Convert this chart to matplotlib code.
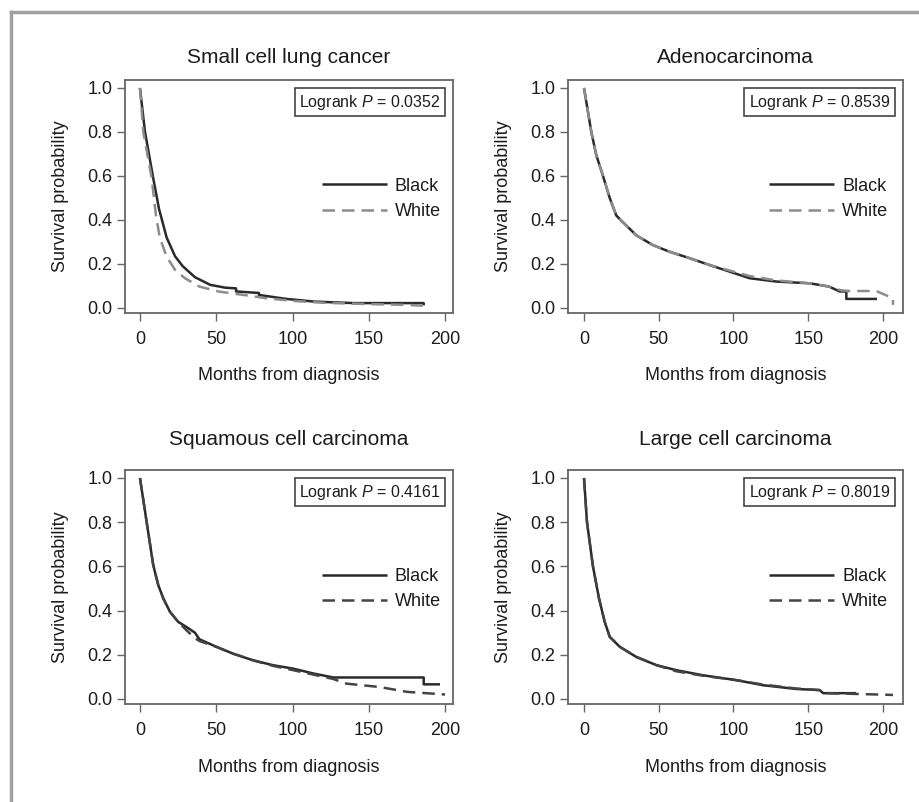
import matplotlib
matplotlib.use("Agg")
import matplotlib.pyplot as plt
from matplotlib.lines import Line2D

plt.rcParams["font.family"] = ["Liberation Sans", "DejaVu Sans"]
plt.rcParams["mathtext.fontset"] = "custom"
plt.rcParams["mathtext.rm"] = "Liberation Sans"
plt.rcParams["mathtext.it"] = "Liberation Sans:italic"

# ---- Kaplan-Meier survival estimates (months, survival probability) ----
titles = ["Small cell lung cancer", "Adenocarcinoma",
          "Squamous cell carcinoma", "Large cell carcinoma"]
logrank_p = ["0.0352", "0.8539", "0.4161", "0.8019"]
group_labels = ["Black", "White"]

scl_black_t = [0, 3.3, 8.7, 12.5, 17.5, 23, 28, 36, 46, 56, 63, 63, 78, 78, 96, 114, 140, 166, 186, 186]
scl_black_s = [1.0, 0.80, 0.59, 0.45, 0.32, 0.235, 0.19, 0.14, 0.105, 0.092, 0.089, 0.075, 0.068, 0.059, 0.041, 0.029, 0.022, 0.022, 0.022, 0.012]
scl_white_t = [0, 2.2, 7.7, 10.5, 13, 17.5, 23, 29.5, 39, 52, 68, 83, 100, 122, 153, 175, 186]
scl_white_s = [1.0, 0.80, 0.59, 0.42, 0.32, 0.233, 0.173, 0.135, 0.097, 0.074, 0.059, 0.044, 0.032, 0.023, 0.017, 0.014, 0.010]

adeno_black_t = [0, 4.9, 8.2, 12.7, 17.2, 21.6, 26, 35, 46, 57, 70.7, 84, 97.4, 110.8, 128.6, 151, 164, 171, 175.5, 175.5, 196]
adeno_black_s = [1.0, 0.80, 0.695, 0.60, 0.50, 0.42, 0.39, 0.33, 0.286, 0.256, 0.226, 0.195, 0.165, 0.135, 0.12, 0.112, 0.097, 0.075, 0.075, 0.041, 0.041]
adeno_white_t = [0, 4.9, 8.2, 12.7, 17.2, 21.6, 26, 35, 46, 57, 70.7, 84, 97.4, 110.8, 128.6, 151, 164, 172, 177.7, 195.5, 206.7, 206.7]
adeno_white_s = [1.0, 0.80, 0.695, 0.60, 0.50, 0.42, 0.39, 0.33, 0.286, 0.256, 0.226, 0.195, 0.17, 0.145, 0.125, 0.112, 0.097, 0.08, 0.077, 0.077, 0.044, 0.014]

sq_black_t = [0, 4.4, 8.7, 12, 15.3, 19.7, 25, 30.6, 36, 39, 50, 61, 74, 87, 100.5, 113.7, 126.8, 186, 186, 196.7]
sq_black_s = [1.0, 0.80, 0.606, 0.515, 0.455, 0.394, 0.349, 0.325, 0.30, 0.27, 0.236, 0.205, 0.175, 0.153, 0.137, 0.115, 0.097, 0.097, 0.066, 0.066]
sq_white_t = [0, 4.4, 8.7, 12, 15.3, 19.7, 25, 30.6, 36, 39, 50, 61, 74, 87, 100.5, 113.7, 126.8, 135.5, 157, 175, 200]
sq_white_s = [1.0, 0.80, 0.606, 0.515, 0.455, 0.394, 0.349, 0.31, 0.275, 0.262, 0.236, 0.205, 0.175, 0.150, 0.130, 0.110, 0.090, 0.069, 0.054, 0.032, 0.020]

lc_black_t = [0, 2, 6, 10, 13.8, 17.2, 23.9, 35, 48.4, 61.8, 79.6, 101.9, 119.7, 142, 157.6, 160, 182]
lc_black_s = [1.0, 0.80, 0.60, 0.456, 0.35, 0.281, 0.236, 0.19, 0.153, 0.13, 0.107, 0.085, 0.062, 0.045, 0.04, 0.026, 0.026]
lc_white_t = [0, 2, 6, 10, 13.8, 17.2, 23.9, 35, 48.4, 61.8, 79.6, 101.9, 119.7, 142, 157.6, 162, 185, 206.7]
lc_white_s = [1.0, 0.80, 0.60, 0.456, 0.35, 0.281, 0.236, 0.19, 0.153, 0.125, 0.105, 0.085, 0.065, 0.047, 0.04, 0.026, 0.022, 0.018]

series = [
    ((scl_black_t, scl_black_s), (scl_white_t, scl_white_s)),
    ((adeno_black_t, adeno_black_s), (adeno_white_t, adeno_white_s)),
    ((sq_black_t, sq_black_s), (sq_white_t, sq_white_s)),
    ((lc_black_t, lc_black_s), (lc_white_t, lc_white_s)),
]

x_ticks = [0, 50, 100, 150, 200]
y_ticks = [0.0, 0.2, 0.4, 0.6, 0.8, 1.0]

# ---- layout ----
W, H = 920, 802
fig = plt.figure(figsize=(W / 100, H / 100), dpi=100)
fig.patch.set_facecolor("white")

# axes boxes in pixels: left, top, right, bottom
boxes = [(125, 80, 453, 313), (568, 80, 903, 313),
         (125, 470, 453, 704), (568, 470, 903, 704)]
xlims = [(-9.8, 205.2), (-10.7, 213.4), (-9.8, 205.2), (-10.7, 213.4)]
white_colors = ["#8c8c8c", "#8c8c8c", "#444444", "#444444"]
title_pads = [12, 12, 18, 18]

text_c = "#1c1c1c"
frame_c = "#666666"

for i, (l, t, r, b) in enumerate(boxes):
    ax = fig.add_axes([l / W, (H - b) / H, (r - l) / W, (b - t) / H])
    (bt, bs), (wt, ws) = series[i]
    ax.plot(bt, bs, color="#2a2a2a", lw=1.8, solid_capstyle="butt",
            label=group_labels[0])
    ax.plot(wt, ws, color=white_colors[i], lw=1.8, dashes=(5, 2.8),
            label=group_labels[1])

    ax.set_xlim(*xlims[i])
    ax.set_ylim(-0.023, 1.036)
    ax.set_xticks(x_ticks)
    ax.set_yticks(y_ticks)
    ax.set_yticklabels([f"{v:.1f}" for v in y_ticks])
    ax.tick_params(direction="out", length=6, width=1.0, color=frame_c,
                   labelsize=13, labelcolor=text_c, pad=3)
    ax.tick_params(axis="x", pad=7)
    for sp in ax.spines.values():
        sp.set_color(frame_c)
        sp.set_linewidth(1.3)

    ax.set_title(titles[i], fontsize=15, color=text_c, pad=title_pads[i])
    ax.set_xlabel("Months from diagnosis", fontsize=13, color=text_c, labelpad=14)
    ax.set_ylabel("Survival probability", fontsize=13, color=text_c, labelpad=13)

    ax.text(0.962, 0.946, r"Logrank $P$ = " + logrank_p[i],
            transform=ax.transAxes, ha="right", va="top", fontsize=11.5,
            color=text_c,
            bbox=dict(boxstyle="square,pad=0.28", fc="white", ec="#444444", lw=1.2))

    ax.legend(loc="center left", bbox_to_anchor=(0.60, 0.49), frameon=False,
              fontsize=13, handlelength=3.6, handletextpad=0.45,
              labelspacing=0.45, borderpad=0, borderaxespad=0,
              labelcolor=text_c)

# outer frame (left and top edges)
fig.add_artist(Line2D([11 / W, 11 / W], [0, (H - 12) / H], color="#a0a0a0",
                      lw=2.5, transform=fig.transFigure))
fig.add_artist(Line2D([11 / W, 1], [(H - 12) / H, (H - 12) / H], color="#a0a0a0",
                      lw=2.5, transform=fig.transFigure))

fig.savefig("out.png", dpi=100)
